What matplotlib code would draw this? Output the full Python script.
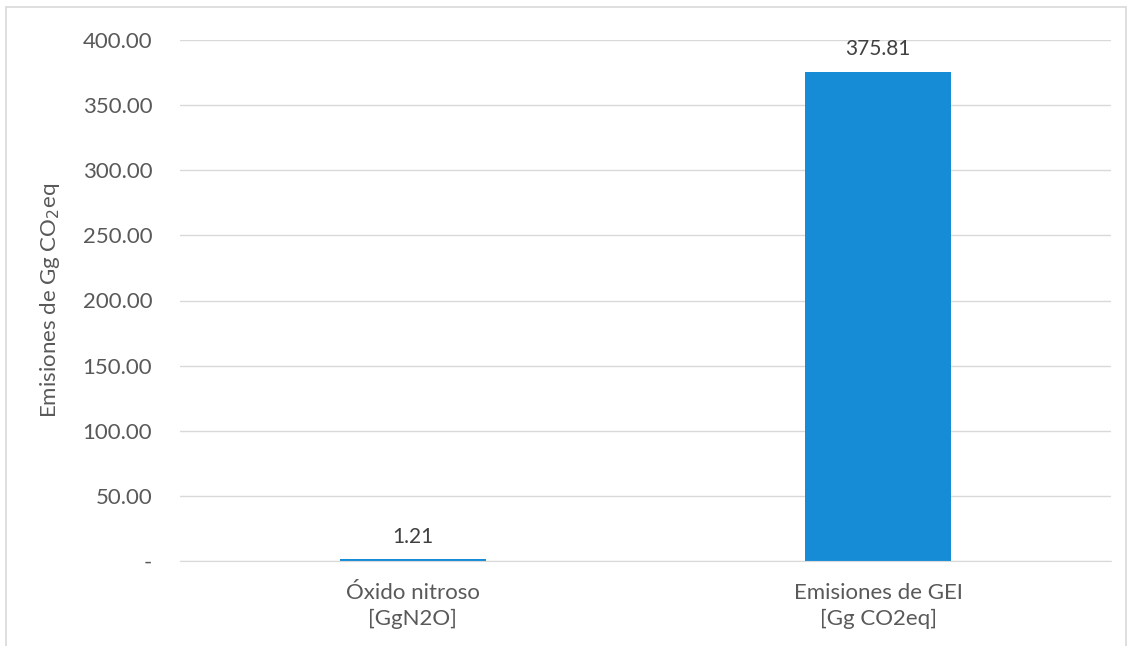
import matplotlib.pyplot as plt
from matplotlib.patches import Rectangle

categories = ['Óxido nitroso\n[GgN2O]', 'Emisiones de GEI\n[Gg CO2eq]']
values = [1.21, 375.81]
value_labels = ['1.21', '375.81']
yticks = [0, 50, 100, 150, 200, 250, 300, 350, 400]
ytick_labels = ['-', '50.00', '100.00', '150.00', '200.00', '250.00', '300.00', '350.00', '400.00']

plt.rcParams['font.family'] = ['Lato', 'DejaVu Sans']
text_color = '#595959'
bar_color = '#168BD6'

fig = plt.figure(figsize=(11.29, 6.46), dpi=100)
ax = fig.add_axes([180 / 1129, 1 - 561 / 646, 931 / 1129, 521 / 646])

x = list(range(len(categories)))
ax.bar(x, values, width=0.314, color=bar_color, zorder=3)
for xi, v, lab in zip(x, values, value_labels):
    ax.annotate(lab, (xi, v), xytext=(0, 9), textcoords='offset points',
                ha='center', va='bottom', fontsize=15, color='#404040')

ax.set_xlim(-0.5, 1.5)
ax.set_ylim(0, 400)
ax.set_yticks(yticks)
ax.set_yticklabels(ytick_labels)
ax.set_xticks(x)
ax.set_xticklabels(categories, linespacing=1.35)
ax.tick_params(axis='both', length=0, labelsize=16, colors=text_color)
ax.tick_params(axis='y', pad=20)
ax.tick_params(axis='x', pad=16)
ax.grid(axis='y', color='#D9D9D9', linewidth=1, zorder=0)
for s in ['top', 'right', 'left']:
    ax.spines[s].set_visible(False)
ax.spines['bottom'].set_color('#D9D9D9')
ax.spines['bottom'].set_zorder(4)

ax.set_ylabel('Emisiones de Gg CO$_{2}$eq', fontsize=16, color=text_color, labelpad=15)

# border around the chart area
fig.patches.append(Rectangle((6 / 1129, -0.01), 1120 / 1129, 1 - 7 / 646 + 0.01,
                             transform=fig.transFigure, fill=False,
                             edgecolor='#D9D9D9', linewidth=1.2))

fig.savefig('out.png', dpi=100)
